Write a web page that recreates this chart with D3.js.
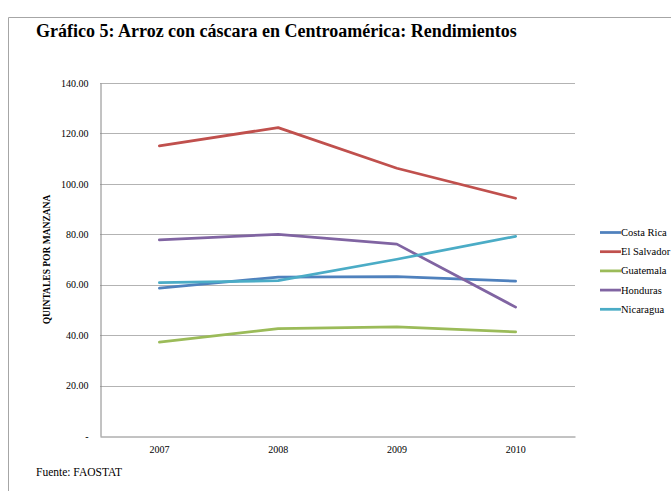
<!DOCTYPE html>
<html><head><meta charset="utf-8">
<script src="https://cdn.jsdelivr.net/npm/d3@7"></script>
<style>html,body{margin:0;padding:0;background:#fff;}svg{display:block;}</style>
</head><body>
<script>
const years = ["2007", "2008", "2009", "2010"];
const countries = ["Costa Rica", "El Salvador", "Guatemala", "Honduras", "Nicaragua"];
const costaRica = [58.6, 63.0, 63.2, 61.4];
const elSalvador = [115.1, 122.3, 106.2, 94.3];
const guatemala = [37.2, 42.6, 43.3, 41.3];
const honduras = [77.8, 80.0, 76.1, 51.1];
const nicaragua = [60.8, 61.6, 70.1, 79.2];
const yTicks = [0, 20, 40, 60, 80, 100, 120, 140];
const colors = ["#4F81BD", "#C0504D", "#9BBB59", "#8064A2", "#4BACC6"];
const seriesValues = [costaRica, elSalvador, guatemala, honduras, nicaragua];

(function () {
const W = 671, H = 491;
const svg = d3.select("body").append("svg").attr("width", W).attr("height", H);
const serif = "'Liberation Serif', 'Times New Roman', serif";

// frame
svg.append("path").attr("d", `M8.5,${H} V17.5 H${W}`).attr("fill", "none").attr("stroke", "#a6a6a6").attr("stroke-width", 1);

svg.append("text").attr("x", 36).attr("y", 37).attr("font-family", serif).attr("font-weight", "bold")
  .attr("font-size", 18).attr("fill", "#000").text("Gráfico 5: Arroz con cáscara en Centroamérica: Rendimientos");

const pL = 100, pR = 575, pT = 83, pB = 436;
const x = d3.scaleBand().domain(years).range([pL, pR]);
const y = d3.scaleLinear().domain([0, 140]).range([pB, pT]);

// gridlines
svg.append("g").selectAll("line").data(yTicks.filter(d => d > 0)).join("line")
  .attr("x1", pL).attr("x2", pR).attr("y1", d => Math.round(y(d)) + 0.5).attr("y2", d => Math.round(y(d)) + 0.5)
  .attr("stroke", "#b3b3b3").attr("stroke-width", 1);

// axes
const yAxis = d3.axisLeft(y).tickValues(yTicks).tickSize(0).tickPadding(12)
  .tickFormat(d => d === 0 ? "-" : d3.format(".2f")(d));
const gy = svg.append("g").attr("transform", `translate(${pL + 0.5},0)`).call(yAxis);
gy.attr("font-family", serif).attr("font-size", 10);
gy.select(".domain").attr("stroke", "#868686");
gy.selectAll("text").attr("font-family", serif).attr("font-size", 10).attr("fill", "#000");

const xAxis = d3.axisBottom(x).tickSize(0).tickPadding(9);
const gx = svg.append("g").attr("transform", `translate(0,${Math.round(pB) + 0.5})`).call(xAxis);
gx.attr("font-family", serif).attr("font-size", 10);
gx.select(".domain").attr("stroke", "#868686");
gx.selectAll("text").attr("font-family", serif).attr("font-size", 10).attr("fill", "#000");

// y title
svg.append("text").attr("transform", `translate(50,${(pT + pB) / 2}) rotate(-90)`)
  .attr("text-anchor", "middle").attr("font-family", serif).attr("font-weight", "bold").attr("font-size", 9.5)
  .attr("fill", "#000").text("QUINTALES POR MANZANA");

// lines
const line = d3.line().x((d, i) => x(years[i]) + x.bandwidth() / 2).y(d => y(d));
svg.append("g").selectAll("path").data(seriesValues).join("path")
  .attr("d", d => line(d)).attr("fill", "none").attr("stroke", (d, i) => colors[i])
  .attr("stroke-width", 2.75).attr("stroke-linejoin", "round").attr("stroke-linecap", "round");

// legend
const lg = svg.append("g");
countries.forEach((c, i) => {
  const yy = 232.5 + i * 19.2;
  lg.append("line").attr("x1", 600).attr("x2", 621).attr("y1", yy).attr("y2", yy)
    .attr("stroke", colors[i]).attr("stroke-width", 2.75);
  lg.append("text").attr("x", 621).attr("y", yy + 3.5).attr("font-family", serif).attr("font-size", 10.5)
    .attr("fill", "#000").text(c);
});

svg.append("text").attr("x", 36).attr("y", 476).attr("font-family", serif).attr("font-size", 11.5)
  .attr("fill", "#000").text("Fuente: FAOSTAT");
})();
</script>
</body></html>
